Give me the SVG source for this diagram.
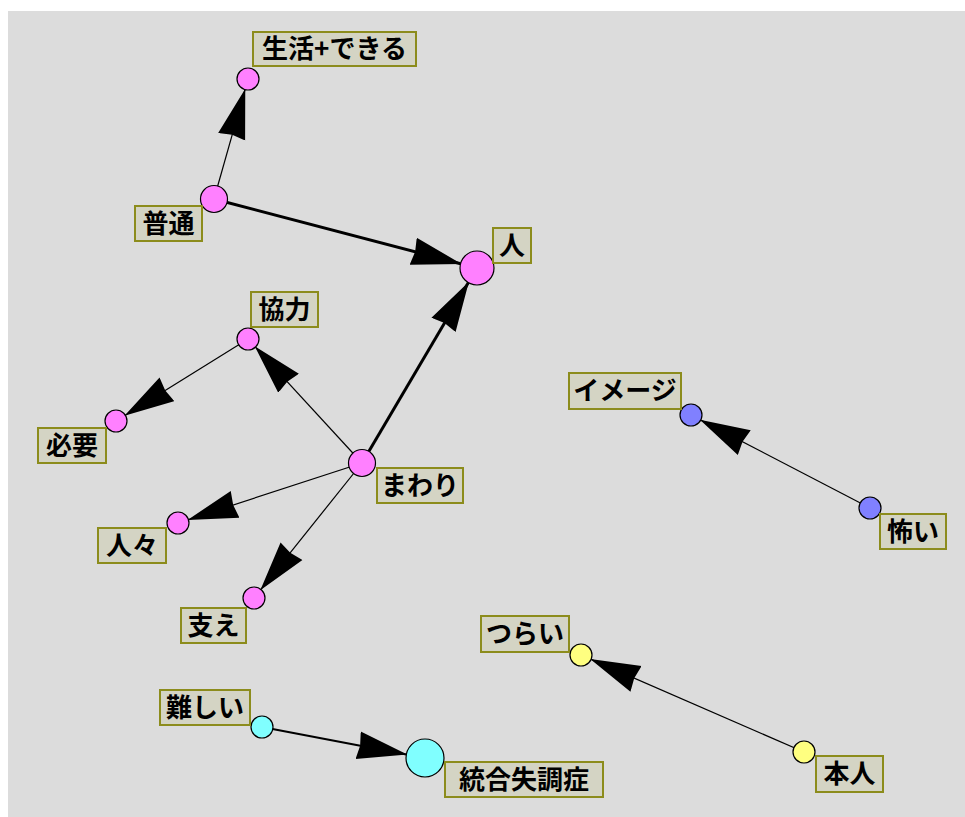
<svg xmlns="http://www.w3.org/2000/svg" width="965" height="817" viewBox="0 0 965 817">
<style>
.lbl rect{fill:#d4d4c4;stroke:#8c8c1c;stroke-width:2}
.lbl text{font-family:"Noto Sans CJK JP","Noto Sans CJK SC",sans-serif;font-size:26px;font-weight:bold;fill:#000;text-anchor:middle}
.n circle{stroke:#000;stroke-width:1.2}
.pink circle{fill:#ff80ff}
.cyan circle{fill:#80ffff}
.yel circle{fill:#ffff80}
.blue circle{fill:#8080ff}
#edges line{stroke:#000;marker-end:url(#ah)}
</style>
<defs>
<marker id="ah" viewBox="0 0 50 30" refX="49" refY="15" markerWidth="50" markerHeight="30" markerUnits="userSpaceOnUse" orient="auto">
<path d="M0,1 L50,15 L0,29 L2,15 z" fill="#000"/>
</marker>
</defs>
<rect x="0" y="0" width="965" height="817" fill="#ffffff"/>
<rect x="8" y="11" width="957" height="806" fill="#dcdcdc"/>
<g id="edges">
<line x1="214" y1="199" x2="245" y2="89.6" stroke-width="1.2"/>
<line x1="214" y1="199" x2="460.6" y2="263.7" stroke-width="3"/>
<line x1="362" y1="463" x2="468.4" y2="282.6" stroke-width="3"/>
<line x1="362" y1="463" x2="255.4" y2="347.1" stroke-width="1.2"/>
<line x1="248" y1="339" x2="125.3" y2="415.2" stroke-width="1.2"/>
<line x1="362" y1="463" x2="188.5" y2="519.6" stroke-width="1.2"/>
<line x1="362" y1="463" x2="260.9" y2="589.4" stroke-width="1.2"/>
<line x1="262" y1="727" x2="406.3" y2="754.4" stroke-width="2"/>
<line x1="804" y1="752" x2="591.1" y2="659.4" stroke-width="1.2"/>
<line x1="870" y1="508" x2="700.8" y2="420.1" stroke-width="1.2"/>
</g>
<g id="n-seikatsu" class="n pink"><circle cx="248" cy="79" r="11"/><g class="lbl"><rect x="253" y="32" width="163" height="34"/><text x="334.5" y="58">生活+できる</text></g></g>
<g id="n-futsuu" class="n pink"><circle cx="214" cy="199" r="13.5"/><g class="lbl"><rect x="135" y="206" width="67" height="35"/><text x="168.5" y="233">普通</text></g></g>
<g id="n-hito" class="n pink"><circle cx="477" cy="268" r="17"/><g class="lbl"><rect x="493" y="228" width="38" height="35"/><text x="512" y="255">人</text></g></g>
<g id="n-kyouryoku" class="n pink"><circle cx="248" cy="339" r="11"/><g class="lbl"><rect x="251" y="292" width="67" height="35"/><text x="284.5" y="319">協力</text></g></g>
<g id="n-hitsuyou" class="n pink"><circle cx="116" cy="421" r="11"/><g class="lbl"><rect x="38" y="428" width="68" height="35"/><text x="72" y="455">必要</text></g></g>
<g id="n-mawari" class="n pink"><circle cx="362" cy="463" r="13.5"/><g class="lbl"><rect x="377" y="468" width="86" height="35"/><text x="420" y="495">まわり</text></g></g>
<g id="n-hitobito" class="n pink"><circle cx="178" cy="523" r="11"/><g class="lbl"><rect x="98" y="528" width="68" height="35"/><text x="132" y="555">人々</text></g></g>
<g id="n-sasae" class="n pink"><circle cx="254" cy="598" r="11"/><g class="lbl"><rect x="181" y="608" width="65" height="35"/><text x="213.5" y="635">支え</text></g></g>
<g id="n-muzukashii" class="n cyan"><circle cx="262" cy="727" r="11"/><g class="lbl"><rect x="160" y="690" width="90" height="35"/><text x="205" y="717">難しい</text></g></g>
<g id="n-tougou" class="n cyan"><circle cx="425" cy="758" r="19"/><g class="lbl"><rect x="445" y="762" width="158" height="35"/><text x="524" y="789">統合失調症</text></g></g>
<g id="n-tsurai" class="n yel"><circle cx="581" cy="655" r="11"/><g class="lbl"><rect x="481" y="616" width="88" height="36"/><text x="525" y="643">つらい</text></g></g>
<g id="n-honnin" class="n yel"><circle cx="804" cy="752" r="11"/><g class="lbl"><rect x="816" y="756" width="67" height="36"/><text x="849.5" y="783">本人</text></g></g>
<g id="n-image" class="n blue"><circle cx="691" cy="415" r="11"/><g class="lbl"><rect x="569" y="373" width="112" height="36"/><text x="625" y="400">イメージ</text></g></g>
<g id="n-kowai" class="n blue"><circle cx="870" cy="508" r="11"/><g class="lbl"><rect x="880" y="514" width="66" height="35"/><text x="913" y="541">怖い</text></g></g>
</svg>
